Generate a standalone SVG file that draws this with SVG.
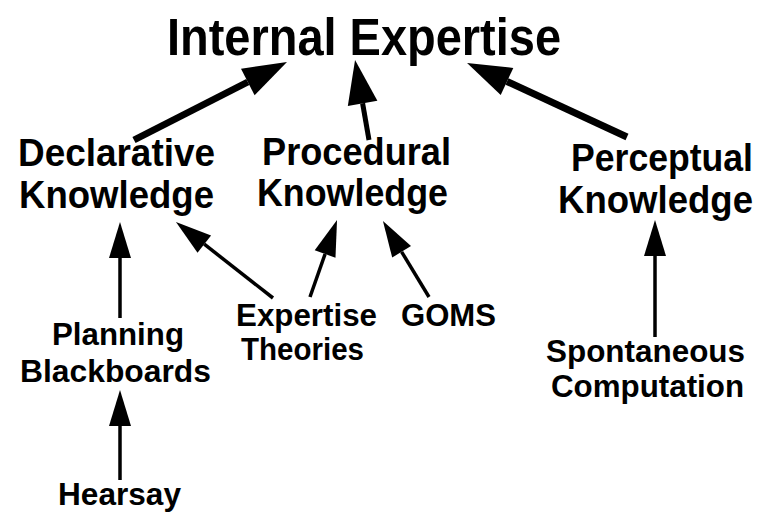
<svg xmlns="http://www.w3.org/2000/svg" width="769" height="518" viewBox="0 0 769 518">
<style>
text{font-family:"Liberation Sans",Arial,sans-serif;font-weight:bold;fill:#000}
.t{font-size:51px}
.n{font-size:38px}
.s{font-size:32px}
.big{stroke:#000;stroke-width:7;fill:none}
.mid{stroke:#000;stroke-width:5;fill:none}
.sm{stroke:#000;stroke-width:3.5;fill:none}
</style>
<defs>
<marker id="hb" markerUnits="userSpaceOnUse" viewBox="0 -16 45 32" refX="0" refY="0" markerWidth="45" markerHeight="32" orient="auto" overflow="visible">
<path d="M0,-15 L44,0 L0,15 z" fill="#000"/>
</marker>
<marker id="hs" markerUnits="userSpaceOnUse" viewBox="0 -12 37 24" refX="0" refY="0" markerWidth="37" markerHeight="24" orient="auto" overflow="visible">
<path d="M0,-11 L36,0 L0,11 z" fill="#000"/>
</marker>
</defs>
<rect width="769" height="518" fill="#fff"/>
<g id="internal"><text class="t" x="167" y="55" textLength="394" lengthAdjust="spacingAndGlyphs">Internal Expertise</text></g>
<g id="declarative"><text class="n" x="18" y="166" textLength="197" lengthAdjust="spacingAndGlyphs">Declarative</text><text class="n" x="19" y="208" textLength="195" lengthAdjust="spacingAndGlyphs">Knowledge</text></g>
<g id="procedural"><text class="n" x="262" y="165" textLength="189" lengthAdjust="spacingAndGlyphs">Procedural</text><text class="n" x="257" y="206" textLength="191" lengthAdjust="spacingAndGlyphs">Knowledge</text></g>
<g id="perceptual"><text class="n" x="571" y="171" textLength="182" lengthAdjust="spacingAndGlyphs">Perceptual</text><text class="n" x="558" y="213" textLength="195" lengthAdjust="spacingAndGlyphs">Knowledge</text></g>
<g id="planning"><text class="s" x="52" y="345" textLength="132" lengthAdjust="spacingAndGlyphs">Planning</text><text class="s" x="20" y="382" textLength="191" lengthAdjust="spacingAndGlyphs">Blackboards</text></g>
<g id="expertise"><text class="s" x="236" y="326" textLength="141" lengthAdjust="spacingAndGlyphs">Expertise</text><text class="s" x="241" y="360" textLength="123" lengthAdjust="spacingAndGlyphs">Theories</text></g>
<g id="goms"><text class="s" x="401" y="326" textLength="95" lengthAdjust="spacingAndGlyphs">GOMS</text></g>
<g id="spontaneous"><text class="s" x="546" y="362" textLength="199" lengthAdjust="spacingAndGlyphs">Spontaneous</text><text class="s" x="551" y="397" textLength="193" lengthAdjust="spacingAndGlyphs">Computation</text></g>
<g id="hearsay"><text class="s" x="58" y="505" textLength="123" lengthAdjust="spacingAndGlyphs">Hearsay</text></g>
<g id="connectors">
<line class="big" x1="134" y1="140" x2="247.8" y2="82" marker-end="url(#hb)"/>
<line class="mid" x1="369" y1="140" x2="362.6" y2="103.3" marker-end="url(#hb)"/>
<line class="big" x1="627" y1="137" x2="507" y2="81.5" marker-end="url(#hb)"/>
<line class="sm" x1="120" y1="318" x2="120" y2="258" marker-end="url(#hs)"/>
<line class="sm" x1="273" y1="298" x2="204.3" y2="244.2" marker-end="url(#hs)"/>
<line class="sm" x1="310" y1="297" x2="325.1" y2="254" marker-end="url(#hs)"/>
<line class="sm" x1="429" y1="297" x2="401.6" y2="251.8" marker-end="url(#hs)"/>
<line class="sm" x1="655" y1="337" x2="655" y2="256" marker-end="url(#hs)"/>
<line class="sm" x1="120" y1="480" x2="120" y2="426" marker-end="url(#hs)"/>
</g>
</svg>
